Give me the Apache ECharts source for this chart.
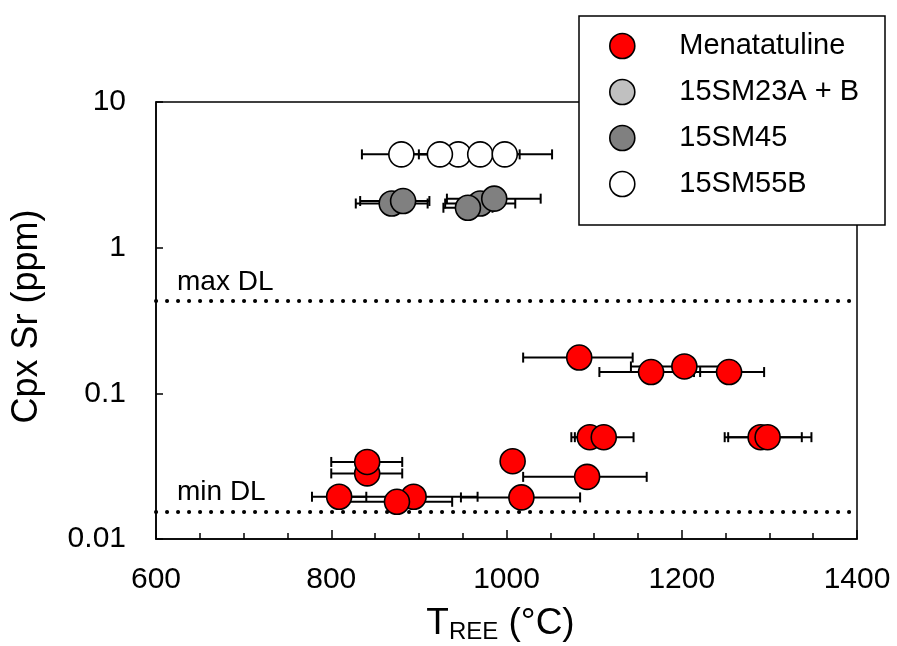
<!DOCTYPE html>
<html>
<head>
<meta charset="utf-8">
<script src="https://cdn.jsdelivr.net/npm/echarts@6/dist/echarts.min.js"></script>
<style>html,body{margin:0;padding:0;background:#fff}#c{width:897px;height:646px}</style>
</head>
<body>
<div id="c"></div>
<script>
// ---- data ----
const seriesNames = ['Menatatuline', '15SM23A + B', '15SM45', '15SM55B'];
// Menatatuline: T (°C), Sr (ppm), T low, T high (error bar ends)
const menT   = [1083, 1165, 1203, 1254, 1095, 1111, 1290, 1298, 841,   841,   894,    809,    875,   1007,  1092,  1017];
const menSr  = [0.176, 0.140, 0.153, 0.140, 0.050, 0.050, 0.050, 0.050, 0.0282, 0.0338, 0.0195, 0.0195, 0.0180, 0.0342, 0.0267, 0.0193];
const menTlo = [1019, 1106, 1142, 1214, 1074, 1078, 1249, 1253, 800,   800,   821,    778,    812,   null,  1019,  948];
const menThi = [1144, 1221, 1262, 1294, 1116, 1145, 1337, 1348, 881,   881,   967,    840,    938,   null,  1160,  1084];
// 15SM23A + B (no visible points)
const smABT = [];
const smABSr = [];
const smABTlo = [];
const smABThi = [];
// 15SM45
const sm45T   = [869, 882, 970, 956, 986];
const sm45Sr  = [2.01, 2.09, 2.01, 1.88, 2.17];
const sm45Tlo = [828, 833, 930, 928, 932];
const sm45Thi = [910, 912, 1010, 984, 1039];
// 15SM55B
const sm55T   = [945, 924, 970, 998, 880];
const sm55Sr  = [4.37, 4.37, 4.37, 4.37, 4.37];
const sm55Tlo = [900, 880, 925, 944, 835];
const sm55Thi = [990, 968, 1015, 1052, 925];
// detection limits
const maxDL = 0.43;
const minDL = 0.0155;
const dlLabels = ['max DL', 'min DL'];
// axis ticks
const xTickLabels = [600, 800, 1000, 1200, 1400];
const yTickValues = [0.01, 0.1, 1, 10];
const yTickLabels = ['0.01', '0.1', '1', '10'];

const colors = ['#ff0000', '#c0c0c0', '#808080', '#ffffff'];
const FONT = 'Liberation Sans, Arial, sans-serif';

function pts(T, S) { return T.map((t, i) => [t, S[i]]); }
function errs(T, S, lo, hi) {
  const out = [];
  T.forEach((t, i) => { if (lo[i] != null && hi[i] != null) out.push([t, S[i], lo[i], hi[i]]); });
  return out;
}
const allErr = [].concat(
  errs(menT, menSr, menTlo, menThi),
  errs(smABT, smABSr, smABTlo, smABThi),
  errs(sm45T, sm45Sr, sm45Tlo, sm45Thi),
  errs(sm55T, sm55Sr, sm55Tlo, sm55Thi)
);

function renderErr(params, api) {
  const y = api.value(1);
  const a = api.coord([api.value(2), y]);
  const b = api.coord([api.value(3), y]);
  const h = 5;
  const st = { stroke: '#000', lineWidth: 2 };
  return {
    type: 'group',
    children: [
      { type: 'line', shape: { x1: a[0], y1: a[1], x2: b[0], y2: b[1] }, style: st },
      { type: 'line', shape: { x1: a[0], y1: a[1] - h, x2: a[0], y2: a[1] + h }, style: st },
      { type: 'line', shape: { x1: b[0], y1: b[1] - h, x2: b[0], y2: b[1] + h }, style: st }
    ]
  };
}

const scatterBase = (name, data, color) => ({
  name: name,
  type: 'scatter',
  data: data,
  symbol: 'circle',
  symbolSize: 25,
  z: 5,
  itemStyle: { color: color, borderColor: '#000', borderWidth: 1.6, opacity: 1 },
  emphasis: { disabled: true }
});

const chart = echarts.init(document.getElementById('c'), null, { renderer: 'canvas' });
chart.setOption({
  animation: false,
  backgroundColor: '#fff',
  textStyle: { fontFamily: FONT, color: '#000' },
  grid: { left: 156, right: 40, top: 102, bottom: 107, show: true, borderColor: '#000', borderWidth: 1.5,
    backgroundColor: 'transparent', containLabel: false, outerBoundsMode: 'none' },
  xAxis: {
    type: 'value', min: 600, max: 1400, interval: 200,
    axisLine: { show: true, lineStyle: { color: '#000', width: 1.5 } },
    axisTick: { show: true, inside: true, length: 9, lineStyle: { color: '#000', width: 1.5 } },
    minorTick: { show: true, splitNumber: 4, length: 6, lineStyle: { color: '#000', width: 1.5 } },
    splitLine: { show: false },
    axisLabel: { fontSize: 30, color: '#000', fontFamily: FONT, margin: 26,
      formatter: v => (xTickLabels.indexOf(v) >= 0 ? String(v) : '') },
    name: '{t|T}{s|REE}{t| (°C)}',
    nameLocation: 'middle', nameGap: 65,
    nameTextStyle: {
      color: '#000', fontFamily: FONT, padding: [0, 12, 0, 0],
      rich: {
        t: { fontSize: 37, lineHeight: 40, verticalAlign: 'middle', fontFamily: FONT, color: '#000' },
        s: { fontSize: 24, lineHeight: 20, verticalAlign: 'bottom', fontFamily: FONT, color: '#000' }
      }
    }
  },
  yAxis: {
    type: 'log', logBase: 10, min: 0.01, max: 10,
    axisLine: { show: true, lineStyle: { color: '#000', width: 1.5 } },
    axisTick: { show: true, inside: true, length: 7, lineStyle: { color: '#000', width: 1.5 } },
    minorTick: { show: false },
    splitLine: { show: false },
    axisLabel: { fontSize: 30, color: '#000', fontFamily: FONT, margin: 30,
      formatter: v => {
        for (let i = 0; i < yTickValues.length; i++) {
          if (Math.abs(Math.log10(v) - Math.log10(yTickValues[i])) < 1e-6) return yTickLabels[i];
        }
        return '';
      } },
    name: 'Cpx Sr (ppm)',
    nameLocation: 'middle', nameGap: 111, nameRotate: 90,
    nameTextStyle: { fontSize: 36, color: '#000', fontFamily: FONT, padding: [0, 0, 0, 8] }
  },
  legend: {
    orient: 'vertical', left: 609, top: 29, padding: 0, z: 20,
    data: seriesNames,
    icon: 'circle', itemWidth: 104, itemHeight: 25, itemGap: 12,
    symbolKeepAspect: true,
    selectedMode: false,
    itemStyle: { borderColor: '#000', borderWidth: 1.6 },
    textStyle: { fontSize: 29, color: '#000', fontFamily: FONT, lineHeight: 34 }
  },
  graphic: [{
    type: 'rect', z: 10,
    shape: { x: 579, y: 16, width: 306, height: 209 },
    style: { fill: '#fff', stroke: '#000', lineWidth: 1.5 }
  }],
  series: [
    {
      type: 'custom', name: 'errors', renderItem: renderErr, data: allErr, z: 3,
      encode: { x: [0, 2, 3], y: 1 }, silent: true
    },
    {
      type: 'scatter', name: 'DL', data: [], silent: true, z: 2,
      markLine: {
        silent: true, symbol: ['none', 'none'], animation: false, precision: 8,
        lineStyle: { color: '#000', width: 4, type: [0.1, 10.9], cap: 'round' },
        label: { show: true, position: 'insideStartTop', fontSize: 28, color: '#000', fontFamily: FONT, distance: [21, 5] },
        emphasis: { disabled: true },
        data: [
          { yAxis: maxDL, label: { formatter: dlLabels[0] } },
          { yAxis: minDL, label: { formatter: dlLabels[1] } }
        ]
      }
    },
    scatterBase(seriesNames[0], pts(menT, menSr), colors[0]),
    scatterBase(seriesNames[1], pts(smABT, smABSr), colors[1]),
    scatterBase(seriesNames[2], pts(sm45T, sm45Sr), colors[2]),
    scatterBase(seriesNames[3], pts(sm55T, sm55Sr), colors[3])
  ]
});
</script>
</body>
</html>
